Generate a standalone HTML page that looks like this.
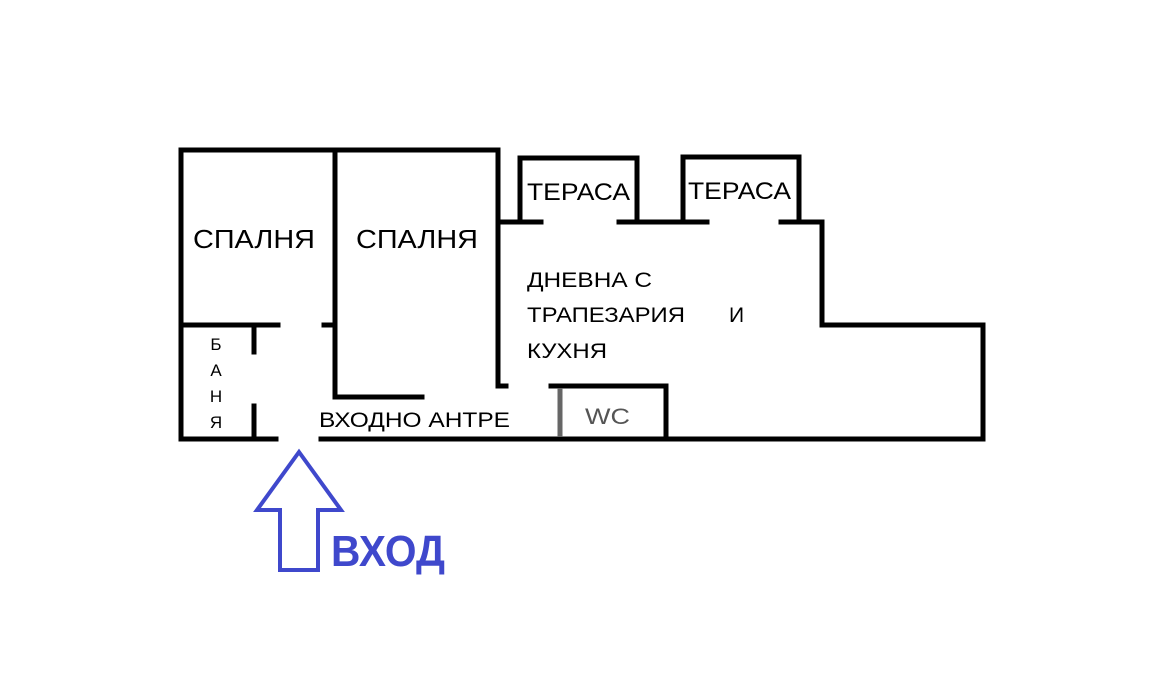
<!DOCTYPE html>
<html><head><meta charset="utf-8"><style>
html,body{margin:0;padding:0;background:#fff;}
svg{display:block;}
text{font-family:"Liberation Sans","DejaVu Sans",sans-serif;}
</style></head><body>
<svg width="1170" height="693" viewBox="0 0 1170 693" xmlns="http://www.w3.org/2000/svg">
<rect width="1170" height="693" fill="#fff"/>
<g stroke="#000" stroke-width="5" fill="none" stroke-linecap="square">
<line x1="181" y1="150" x2="498" y2="150"/>
<line x1="181" y1="150" x2="181" y2="439"/>
<line x1="335" y1="150" x2="335" y2="397"/>
<line x1="498" y1="150" x2="498" y2="386"/>
<line x1="181" y1="325" x2="278" y2="325"/>
<line x1="324" y1="325" x2="335" y2="325"/>
<line x1="254" y1="325" x2="254" y2="352"/>
<line x1="254" y1="406" x2="254" y2="439"/>
<line x1="335" y1="397" x2="422" y2="397"/>
<line x1="181" y1="439" x2="276" y2="439"/>
<line x1="321" y1="439" x2="983" y2="439"/>
<line x1="498" y1="222" x2="541" y2="222"/>
<line x1="520" y1="158" x2="520" y2="222"/>
<line x1="520" y1="158" x2="637" y2="158"/>
<line x1="637" y1="158" x2="637" y2="222"/>
<line x1="619" y1="222" x2="707" y2="222"/>
<line x1="683" y1="157" x2="683" y2="222"/>
<line x1="683" y1="157" x2="799" y2="157"/>
<line x1="799" y1="157" x2="799" y2="222"/>
<line x1="781" y1="222" x2="822" y2="222"/>
<line x1="822" y1="222" x2="822" y2="325"/>
<line x1="822" y1="325" x2="983" y2="325"/>
<line x1="983" y1="325" x2="983" y2="439"/>
<line x1="498" y1="386" x2="506" y2="386"/>
<line x1="551" y1="386" x2="666" y2="386"/>
<line x1="666" y1="386" x2="666" y2="439"/>
</g>
<line x1="560" y1="388" x2="560" y2="437" stroke="#666" stroke-width="5"/>
<g fill="#000">
<text x="193" y="248" font-size="26" textLength="122" lengthAdjust="spacingAndGlyphs">СПАЛНЯ</text>
<text x="356" y="248" font-size="26" textLength="122" lengthAdjust="spacingAndGlyphs">СПАЛНЯ</text>
<text x="527" y="200" font-size="24" textLength="103" lengthAdjust="spacingAndGlyphs">ТЕРАСА</text>
<text x="688" y="199" font-size="24" textLength="103" lengthAdjust="spacingAndGlyphs">ТЕРАСА</text>
<text x="527" y="287" font-size="21" textLength="125" lengthAdjust="spacingAndGlyphs">ДНЕВНА С</text>
<text x="527" y="322" font-size="21" textLength="158" lengthAdjust="spacingAndGlyphs">ТРАПЕЗАРИЯ</text>
<text x="729" y="322" font-size="21">И</text>
<text x="527" y="358" font-size="21" textLength="80" lengthAdjust="spacingAndGlyphs">КУХНЯ</text>
<text x="319" y="427" font-size="21" textLength="191" lengthAdjust="spacingAndGlyphs">ВХОДНО АНТРЕ</text>
<text x="585" y="424" font-size="22" fill="#555" textLength="45" lengthAdjust="spacingAndGlyphs">WC</text>
<g font-size="17" text-anchor="middle">
<text x="216" y="350">Б</text>
<text x="216" y="376">А</text>
<text x="216" y="402">Н</text>
<text x="216" y="428">Я</text>
</g>
</g>
<polygon points="299,452 341,510 318,510 318,570 280,570 280,510 257,510" fill="none" stroke="#3f48cc" stroke-width="4" stroke-linejoin="miter"/>
<text x="331" y="566" font-size="44" font-weight="bold" fill="#3f48cc" textLength="114" lengthAdjust="spacingAndGlyphs">ВХОД</text>
</svg>
</body></html>
